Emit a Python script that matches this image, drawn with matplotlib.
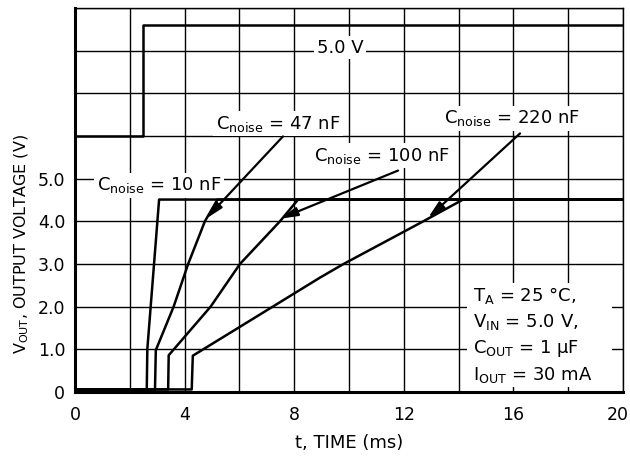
import matplotlib
matplotlib.use("Agg")
import matplotlib.pyplot as plt
import matplotlib.transforms as mtransforms
from matplotlib.patches import Rectangle

plt.rcParams['font.family'] = ['DejaVu Sans']
plt.rcParams['mathtext.default'] = 'regular'
plt.rcParams['font.size'] = 13

# input step trace (offset on the plot, 0 V drawn at 6 and 5 V at ~8.6)
vin_t = [0, 2.47, 2.47, 20]
vin_v = [6.0, 6.0, 8.59, 8.59]

# output traces (t in ms, V)
t_10 = [0, 2.62, 2.64, 3.07, 20]
v_10 = [0.06, 0.06, 1.0, 4.51, 4.51]

t_47 = [0, 2.92, 2.95, 3.6, 4.13, 4.74, 5.2, 20]
v_47 = [0.06, 0.06, 0.98, 2.0, 3.0, 4.0, 4.51, 4.51]

t_100 = [0, 3.4, 3.42, 3.5, 4.95, 6.02, 7.48, 8.14, 20]
v_100 = [0.06, 0.06, 0.86, 0.92, 2.0, 3.0, 4.0, 4.51, 4.51]

t_220 = [0, 4.26, 4.3, 6.0, 8.94, 9.8, 12.71, 14.16, 20]
v_220 = [0.06, 0.06, 0.85, 1.52, 2.68, 3.0, 4.0, 4.51, 4.51]

x_ticks = [0, 2, 4, 6, 8, 10, 12, 14, 16, 18, 20]
x_labels = ['0', '', '4', '', '8', '', '12', '', '16', '', '20']
y_ticks = [0, 1, 2, 3, 4, 5, 6, 7, 8, 9]
y_labels = ['0', '1.0', '2.0', '3.0', '4.0', '5.0', '', '', '', '']

cond_lines = ['T$_A$ = 25 °C,', 'V$_{IN}$ = 5.0 V,', 'C$_{OUT}$ = 1 μF', 'I$_{OUT}$ = 30 mA']
cond_y = [2.26, 1.63, 1.02, 0.39]

fig = plt.figure(figsize=(6.3, 4.61), dpi=100)
ax = fig.add_axes([0.119, 0.1497, 0.870, 0.833])

for t, v in [(vin_t, vin_v), (t_10, v_10), (t_47, v_47), (t_100, v_100), (t_220, v_220)]:
    ax.plot(t, v, color='black', lw=1.8, zorder=2)

ax.set_xlim(0, 20)
ax.set_ylim(0, 9)
ax.set_xticks(x_ticks)
ax.set_xticklabels(x_labels, fontsize=12.5)
ax.set_yticks(y_ticks)
ax.set_yticklabels(y_labels, fontsize=12.5)
ax.tick_params(axis='x', length=0, pad=10)
ax.tick_params(axis='y', length=0, pad=7)
# nudge the last x label so it stays inside the picture
last = ax.get_xticklabels()[-1]
last.set_transform(last.get_transform() + mtransforms.ScaledTranslation(-5 / 100, 0, fig.dpi_scale_trans))

ax.grid(True, color='black', lw=1.0, zorder=0.5)
ax.set_axisbelow(True)
for side in ['top', 'right']:
    ax.spines[side].set_linewidth(1.0)
for side in ['left', 'bottom']:
    ax.spines[side].set_linewidth(2.2)

box = dict(facecolor='white', edgecolor='none', pad=2)

ax.text(9.67, 8.07, '5.0 V', ha='center', va='center', bbox=box, zorder=4)
ax.text(3.08, 4.84, r'C$_{noise}$ = 10 nF', ha='center', va='center', bbox=box, zorder=4)
ax.text(7.4, 6.29, r'C$_{noise}$ = 47 nF', ha='center', va='center', bbox=box, zorder=4)
ax.text(11.2, 5.54, r'C$_{noise}$ = 100 nF', ha='center', va='center', bbox=box, zorder=4)
ax.text(15.95, 6.41, r'C$_{noise}$ = 220 nF', ha='center', va='center', bbox=box, zorder=4)

arrow = dict(arrowstyle='-|>,head_length=0.8,head_width=0.2', color='black', lw=1.6,
             shrinkA=0, shrinkB=0)
ax.annotate('', xy=(4.78, 4.06), xytext=(7.59, 5.99), arrowprops=arrow, zorder=5)
ax.annotate('', xy=(7.48, 4.06), xytext=(11.79, 5.19), arrowprops=arrow, zorder=5)
ax.annotate('', xy=(12.88, 4.08), xytext=(16.24, 6.06), arrowprops=arrow, zorder=5)

# white panel behind the test conditions
ax.add_patch(Rectangle((14.31, 0.11), 5.29, 2.44, facecolor='white', edgecolor='none', zorder=3))
for s, y in zip(cond_lines, cond_y):
    ax.text(14.53, y, s, ha='left', va='center', zorder=4)

fig.text(0.554, 0.039, 't, TIME (ms)', ha='center', va='center')
fig.text(0.035, 0.47, 'V$_{OUT}$, OUTPUT VOLTAGE (V)', ha='center', va='center',
         rotation=90, fontsize=11.5)

fig.savefig('out.png', dpi=100)
